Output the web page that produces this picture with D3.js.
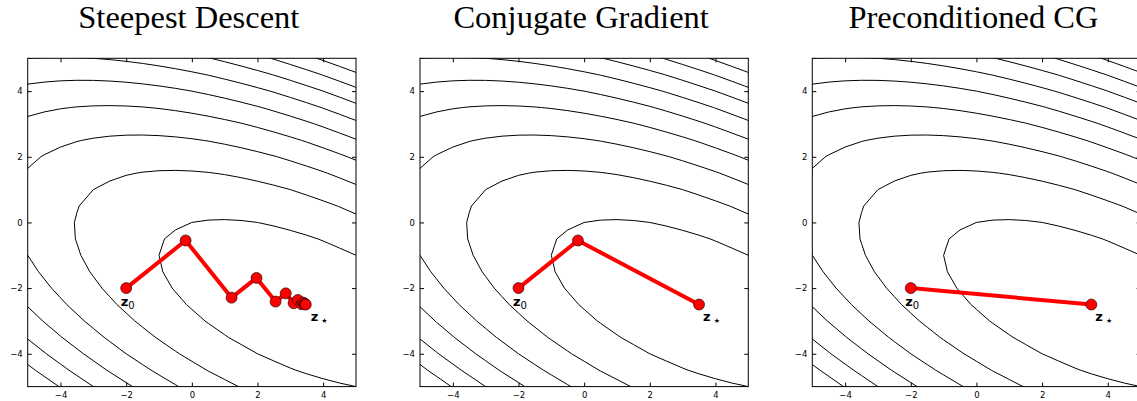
<!doctype html>
<meta charset="utf-8">
<script src="https://d3js.org/d3.v7.min.js"></script>
<style>
  body { margin: 0; background: #fff; }
  text { fill: #000; }
</style>
<body>
<script>

var width = 1137;
var height = 401;

// objective f(z) = 0.5 z'Az - b'z, drawn as contours
var A = [[1, 1], [1, 3]];
var b = [1, -4];
var levels = [0, 10, 20, 30, 40, 50, 60, 70, 80, 90];
var ticks = [-4, -2, 0, 2, 4];
var titles = ["Steepest Descent", "Conjugate Gradient", "Preconditioned CG"];

// iterates
var sdX = [-2, -0.19, 1.21, 1.97, 2.55, 2.86, 3.10, 3.23, 3.34, 3.39, 3.43, 3.45, 3.47];
var sdY = [-2, -0.55, -2.29, -1.69, -2.41, -2.16, -2.46, -2.36, -2.49, -2.44, -2.49, -2.48, -2.50];
var cgX = [-2, -0.19, 3.5];
var cgY = [-2, -0.55, -2.5];
var pcgX = [-2, 3.5];
var pcgY = [-2, -2.5];

var paths = [[sdX, sdY], [cgX, cgY], [pcgX, pcgY]];

var size = 328.3;
var panelTop = 58.3;
var lefts = [27.7, 420, 812.3];

var svg = d3.select("body")
    .append("svg")
    .attr("width", width)
    .attr("height", height);

// sample the objective on a grid a bit larger than the view
var step = 0.5;
var gx = d3.range(-6, 6 + 1e-9, step);
var n = gx.length;
var values = new Array(n * n);
for (var j = 0; j < n; j++) {
  for (var i = 0; i < n; i++) {
    var u = gx[i], v = gx[j];
    values[j * n + i] = 0.5 * (A[0][0] * u * u + 2 * A[0][1] * u * v + A[1][1] * v * v) - b[0] * u - b[1] * v;
  }
}
var contours = d3.contours().size([n, n]).thresholds(levels)(values);

titles.forEach(function(title, k) {
  var x = d3.scaleLinear().domain([-5, 5]).range([0, size]);
  var y = d3.scaleLinear().domain([-5, 5]).range([size, 0]);

  var g = svg.append("g")
      .attr("transform", "translate(" + lefts[k] + "," + panelTop + ")");

  svg.append("text")
      .attr("x", lefts[k] + size / 2 - 3)
      .attr("y", 28)
      .attr("text-anchor", "middle")
      .style("font-family", "Liberation Serif")
      .style("font-size", "32.5px")
      .text(title);

  g.append("clipPath")
      .attr("id", "clip" + k)
    .append("rect")
      .attr("width", size)
      .attr("height", size);

  var grid = d3.geoPath(d3.geoTransform({
    point: function(c, r) {
      this.stream.point(x(-6 + (c - 0.5) * step), y(-6 + (r - 0.5) * step));
    }
  }));

  g.append("g")
      .attr("clip-path", "url(#clip" + k + ")")
    .selectAll("path")
    .data(contours)
    .enter().append("path")
      .attr("d", grid)
      .style("fill", "none")
      .style("stroke", "#000")
      .style("stroke-width", 1);

  var fmt = d3.format("d");
  var axes = [
    [d3.axisBottom(x), "translate(0," + size + ")", true],
    [d3.axisLeft(y), null, true],
    [d3.axisTop(x), null, false],
    [d3.axisRight(y), "translate(" + size + ",0)", false]
  ];
  axes.forEach(function(a) {
    var ax = a[0].tickValues(ticks).tickSizeInner(-4).tickSizeOuter(0).tickPadding(5)
        .tickFormat(a[2] ? fmt : "");
    var ga = g.append("g").call(ax);
    if (a[1]) ga.attr("transform", a[1]);
    ga.select(".domain").remove();
    ga.selectAll("line").style("stroke", "#000");
    ga.selectAll("text")
        .style("font-family", "DejaVu Sans")
        .style("font-size", "8.5px")
        .style("fill", "#000");
  });

  g.append("rect")
      .attr("width", size)
      .attr("height", size)
      .style("fill", "none")
      .style("stroke", "#000")
      .style("stroke-width", 1);

  var px = paths[k][0], py = paths[k][1];
  var pts = px.map(function(val, i) { return [x(val), y(py[i])]; });

  g.append("path")
      .attr("d", d3.line()(pts))
      .style("fill", "none")
      .style("stroke", "#ff0000")
      .style("stroke-width", 4)
      .style("stroke-linejoin", "round");

  g.selectAll("circle")
    .data(pts)
    .enter().append("circle")
      .attr("cx", function(d) { return d[0]; })
      .attr("cy", function(d) { return d[1]; })
      .attr("r", 5.5)
      .style("fill", "#ff0000")
      .style("stroke", "#000")
      .style("stroke-width", 0.6);

  var first = pts[0], last = [x(3.5), y(-2.5)];
  var l0 = g.append("text")
      .attr("x", first[0] - 5.5)
      .attr("y", first[1] + 18)
      .style("font-family", "DejaVu Sans");
  l0.append("tspan").style("font-weight", "bold").style("font-size", "13px").text("z");
  l0.append("tspan").attr("dy", 3).style("font-size", "10px").text("0");

  var l1 = g.append("text")
      .attr("x", last[0] + 4)
      .attr("y", last[1] + 16)
      .style("font-family", "DejaVu Sans");
  l1.append("tspan").style("font-weight", "bold").style("font-size", "13px").text("z");
  l1.append("tspan").attr("dx", 3).attr("dy", 2).style("font-size", "7px").text("\u2605");
});

</script>
